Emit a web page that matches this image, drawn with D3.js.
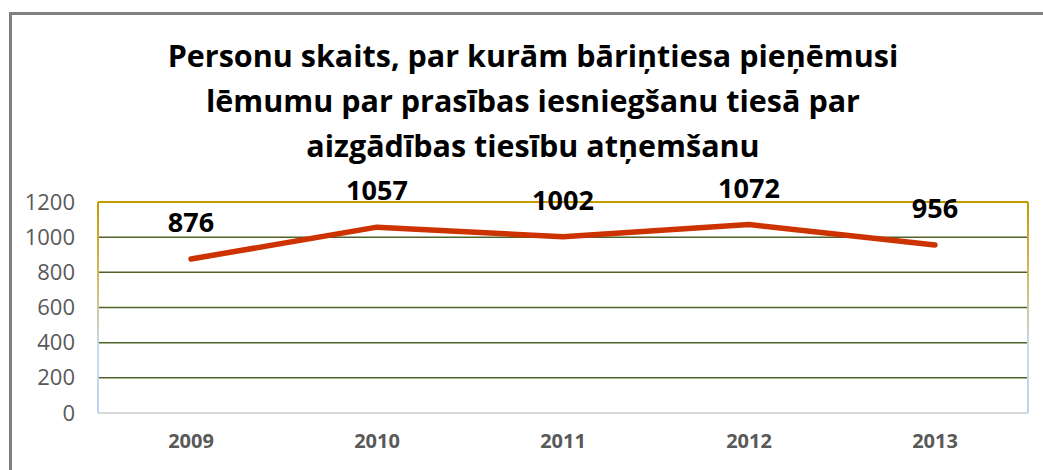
<!DOCTYPE html>
<html>
<head>
<meta charset="utf-8">
<script src="https://cdn.jsdelivr.net/npm/d3@7"></script>
<style>
  body { margin: 0; background: #fff; }
  svg { display: block; font-family: 'Open Sans', Lato, sans-serif; }
</style>
</head>
<body>
<div id="chart"></div>
<script>
const years = ['2009', '2010', '2011', '2012', '2013'];
const persons = [876, 1057, 1002, 1072, 956];
const yTicks = [0, 200, 400, 600, 800, 1000, 1200];
const titleLines = [
  'Personu skaits, par kurām bāriņtiesa pieņēmusi',
  'lēmumu par prasības iesniegšanu tiesā par',
  'aizgādības tiesību atņemšanu'
];

const width = 1043;
const height = 470;
const margin = { top: 202, right: 15, bottom: 57, left: 98 };
const plotW = width - margin.left - margin.right;
const plotH = height - margin.top - margin.bottom;

const svg = d3.select('#chart')
  .append('svg')
  .attr('width', width)
  .attr('height', height);

// outer chart frame (only top and left edges visible)
svg.append('path')
  .attr('d', `M10.5,${height} V13.5 H${width}`)
  .attr('fill', 'none')
  .attr('stroke', '#808080')
  .attr('stroke-width', 3);

svg.append('g')
  .selectAll('text')
  .data(titleLines)
  .enter()
  .append('text')
  .attr('x', 533)
  .attr('y', (d, i) => 67 + i * 45)
  .attr('text-anchor', 'middle')
  .attr('font-size', 30.5)
  .attr('font-weight', 'bold')
  .attr('fill', '#000')
  .text((d) => d);

const x = d3.scaleBand().domain(years).range([0, plotW]);
const y = d3.scaleLinear().domain([0, 1200]).range([plotH, 0]);

const g = svg.append('g')
  .attr('transform', `translate(${margin.left},${margin.top})`);

// gradient for plot side borders
const defs = svg.append('defs');
const grad = defs.append('linearGradient')
  .attr('id', 'sideGrad')
  .attr('gradientUnits', 'userSpaceOnUse')
  .attr('x1', 0).attr('y1', 0).attr('x2', 0).attr('y2', plotH);
grad.append('stop').attr('offset', '0%').attr('stop-color', '#c59a00');
grad.append('stop').attr('offset', '35%').attr('stop-color', '#d4b860');
grad.append('stop').attr('offset', '70%').attr('stop-color', '#c4dcef');
grad.append('stop').attr('offset', '100%').attr('stop-color', '#bcd6f0');

g.selectAll('.grid')
  .data(yTicks.filter((d) => d > 0 && d < 1200))
  .enter()
  .append('line')
  .attr('class', 'grid')
  .attr('x1', 0)
  .attr('x2', plotW)
  .attr('y1', (d) => y(d))
  .attr('y2', (d) => y(d))
  .attr('stroke', '#4f6228')
  .attr('stroke-width', 1.5);

g.append('line')
  .attr('x1', 0).attr('x2', plotW)
  .attr('y1', y(0)).attr('y2', y(0))
  .attr('stroke', '#d9d9d9')
  .attr('stroke-width', 2);

g.append('line')
  .attr('x1', 0).attr('x2', plotW)
  .attr('y1', y(1200)).attr('y2', y(1200))
  .attr('stroke', '#c59a00')
  .attr('stroke-width', 2);

[0, plotW].forEach((px) => {
  g.append('line')
    .attr('x1', px).attr('x2', px + 0.01)
    .attr('y1', 0).attr('y2', plotH)
    .attr('stroke', 'url(#sideGrad)')
    .attr('stroke-width', 2);
});

const yAxis = g.append('g')
  .call(d3.axisLeft(y).tickValues(yTicks).tickFormat(d3.format('d')).tickSize(0).tickPadding(23));
yAxis.select('.domain').remove();
yAxis.selectAll('text')
  .attr('font-size', 22)
  .attr('font-family', "'Open Sans', sans-serif")
  .attr('fill', '#595959');

const xAxis = g.append('g')
  .attr('transform', `translate(0,${plotH})`)
  .call(d3.axisBottom(x).tickSize(0).tickPadding(21));
xAxis.select('.domain').remove();
xAxis.selectAll('text')
  .attr('font-size', 20)
  .attr('font-weight', 'bold')
  .attr('font-family', "'Open Sans', sans-serif")
  .attr('fill', '#595959');

const line = d3.line()
  .x((d, i) => x(years[i]) + x.bandwidth() / 2)
  .y((d) => y(d));

g.append('path')
  .datum(persons)
  .attr('d', line)
  .attr('fill', 'none')
  .attr('stroke', '#cc3300')
  .attr('stroke-width', 5.5)
  .attr('stroke-linecap', 'round')
  .attr('stroke-linejoin', 'round');

g.selectAll('.val')
  .data(persons)
  .enter()
  .append('text')
  .attr('class', 'val')
  .attr('x', (d, i) => x(years[i]) + x.bandwidth() / 2)
  .attr('y', (d) => y(d) - 27)
  .attr('text-anchor', 'middle')
  .attr('font-size', 27)
  .attr('font-weight', 'bold')
  .attr('fill', '#000')
  .text((d) => d);
</script>
</body>
</html>
